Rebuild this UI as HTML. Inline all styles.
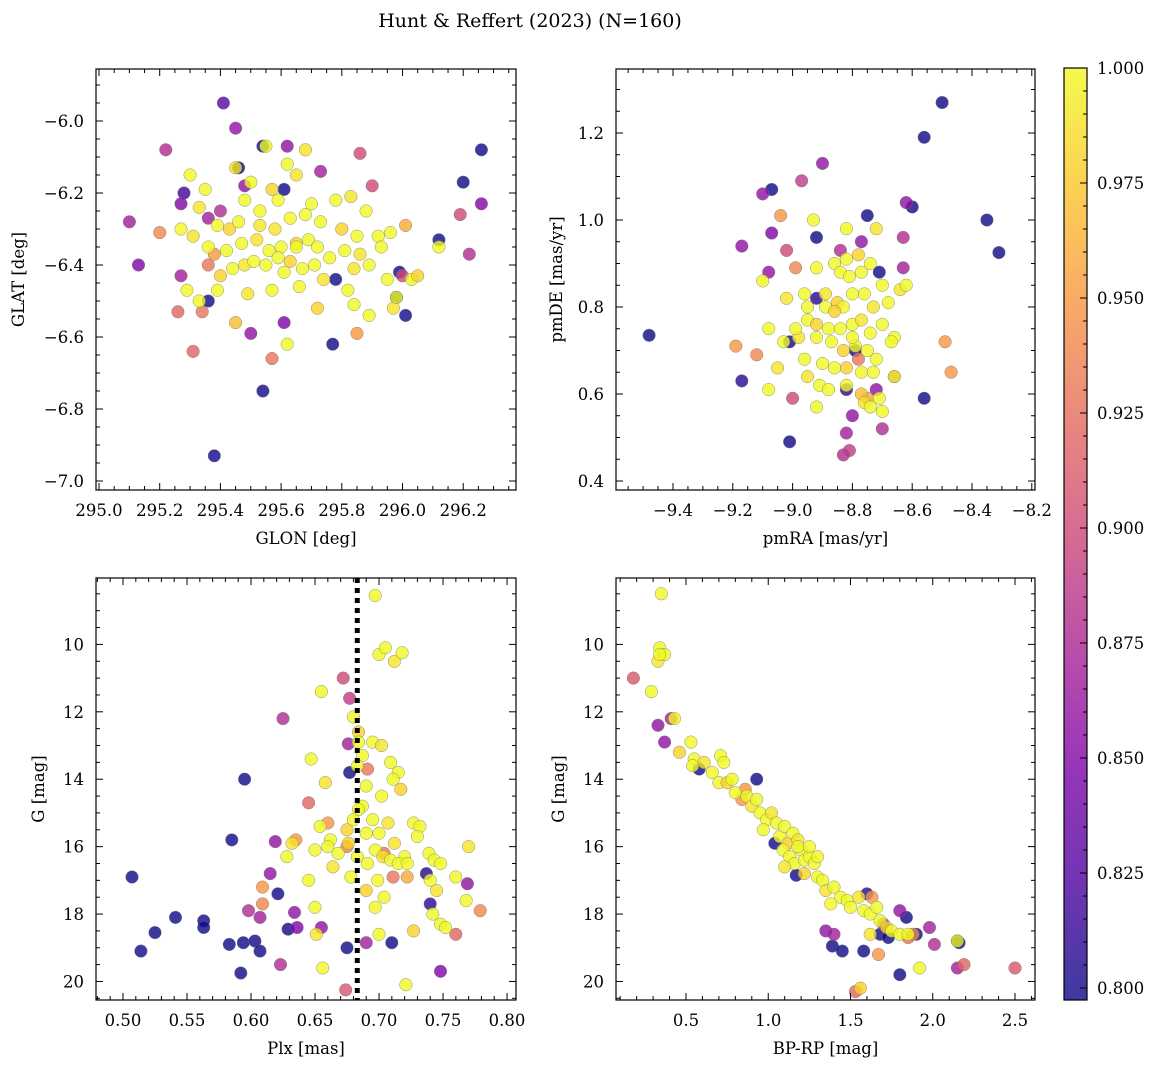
<!DOCTYPE html>
<html><head><meta charset="utf-8">
<style>
html,body{margin:0;padding:0;background:#fff;}
svg{display:block;font-family:"DejaVu Serif","Liberation Serif",serif;}
</style></head>
<body>
<svg id="fig" width="1161" height="1068" viewBox="0 0 1161 1068" xmlns="http://www.w3.org/2000/svg">
<defs>
<linearGradient id="cbg" x1="0" y1="1" x2="0" y2="0">
<stop offset="0" stop-color="#0d0887"/><stop offset="0.125" stop-color="#4c02a1"/>
<stop offset="0.25" stop-color="#7e03a8"/><stop offset="0.375" stop-color="#a82296"/>
<stop offset="0.5" stop-color="#cc4778"/><stop offset="0.625" stop-color="#e56b5d"/>
<stop offset="0.75" stop-color="#f89540"/><stop offset="0.875" stop-color="#fdc527"/>
<stop offset="1" stop-color="#f0f921"/>
</linearGradient>
</defs>
<text x="530" y="27" text-anchor="middle" font-size="19">Hunt &amp; Reffert (2023) (N=160)</text>
</svg>
<script>
// Panel 1: GLON / GLAT
const p1Lon=[295.41,295.38,295.36,295.46,295.28,295.54,295.54,295.61,295.77,295.99,295.98,296.01,296.12,296.20,296.26,295.78,
295.45,295.10,295.13,295.22,295.27,295.27,295.36,295.40,295.48,295.50,295.61,295.62,295.73,295.90,295.86,296.00,296.22,296.26,296.19,
295.20,295.26,295.31,295.34,295.36,295.38,295.57,295.85,296.01,
295.55,295.68,295.30,295.45,295.50,295.62,295.57,295.35,295.33,295.48,295.59,295.65,295.70,295.78,295.83,295.88,295.39,295.43,295.46,295.53,295.58,295.63,295.68,295.73,295.80,295.92,295.96,295.27,295.31,295.36,295.42,295.47,295.52,295.56,295.60,295.65,295.69,295.72,295.81,295.86,295.93,296.12,295.44,295.48,295.51,295.55,295.59,295.63,295.67,295.71,295.76,295.84,295.89,296.03,296.05,295.57,295.66,295.74,295.82,295.29,295.39,295.49,295.33,295.45,295.62,295.72,295.84,295.89,295.97,295.98,295.65,295.61,295.53,295.85,295.95,295.40];
const p1Lat=[-5.95,-6.93,-6.50,-6.13,-6.20,-6.75,-6.07,-6.19,-6.62,-6.42,-6.49,-6.54,-6.33,-6.17,-6.08,-6.44,
-6.02,-6.28,-6.40,-6.08,-6.23,-6.43,-6.27,-6.25,-6.18,-6.59,-6.56,-6.07,-6.14,-6.18,-6.09,-6.43,-6.37,-6.23,-6.26,
-6.31,-6.53,-6.64,-6.53,-6.40,-6.37,-6.66,-6.59,-6.29,
-6.07,-6.08,-6.15,-6.13,-6.17,-6.12,-6.19,-6.19,-6.24,-6.22,-6.22,-6.15,-6.23,-6.22,-6.21,-6.25,-6.29,-6.30,-6.28,-6.25,-6.30,-6.27,-6.26,-6.28,-6.30,-6.32,-6.31,-6.30,-6.32,-6.35,-6.36,-6.34,-6.33,-6.36,-6.35,-6.34,-6.33,-6.35,-6.36,-6.37,-6.35,-6.35,-6.41,-6.40,-6.39,-6.40,-6.38,-6.39,-6.41,-6.40,-6.38,-6.41,-6.40,-6.44,-6.43,-6.47,-6.46,-6.44,-6.47,-6.47,-6.47,-6.48,-6.50,-6.56,-6.62,-6.52,-6.51,-6.54,-6.52,-6.49,-6.35,-6.42,-6.29,-6.32,-6.44,-6.43];
const p1Prob=[0.83,0.80,0.80,0.80,0.82,0.80,0.80,0.80,0.80,0.80,0.80,0.80,0.80,0.80,0.80,0.80,
0.86,0.87,0.85,0.88,0.85,0.87,0.87,0.88,0.86,0.86,0.85,0.86,0.87,0.90,0.90,0.90,0.88,0.85,0.90,
0.94,0.92,0.92,0.93,0.93,0.95,0.93,0.95,0.96,
1,0.99,1,0.99,1,1,0.98,1,0.99,1,1,0.99,1,1,0.99,1,1,0.98,1,1,0.99,1,1,1,0.98,1,1,1,0.99,1,1,1,0.99,1,1,0.98,1,1,1,0.99,1,1,1,0.99,1,1,1,0.98,1,1,1,0.99,1,1,0.98,1,1,0.99,1,1,1,0.99,1,0.97,1,0.98,1,1,0.99,1,1,1,0.99,1,1,0.98];

// Panel 2: pmRA / pmDE
const p2Ra=[-9.48,-8.50,-8.56,-8.35,-8.31,-8.60,-8.56,-8.71,-8.75,-9.07,-9.17,-9.01,-9.01,-8.92,-8.92,-8.79,-8.82,
-8.97,-8.90,-9.10,-9.17,-9.07,-9.08,-9.02,-8.84,-8.77,-8.62,-8.63,-8.63,-8.83,-8.81,-8.82,-8.80,-8.70,-8.72,-8.66,-9.00,
-9.04,-8.99,-9.19,-9.12,-8.49,-8.47,-8.78,-8.75,
-8.93,-8.82,-8.72,-8.82,-8.86,-8.78,-8.74,-8.92,-8.96,-8.89,-8.84,-8.81,-8.77,-8.70,-8.64,-8.95,-8.89,-8.85,-8.83,-8.80,-8.76,-8.73,-8.68,-9.08,-9.03,-8.95,-8.92,-8.88,-8.84,-8.80,-8.77,-8.74,-8.70,-8.66,-9.10,-8.98,-8.92,-8.87,-8.83,-8.79,-8.75,-8.72,-8.67,-9.05,-8.96,-8.90,-8.86,-8.82,-8.77,-8.73,-9.08,-8.95,-8.91,-8.88,-8.82,-8.77,-8.71,-8.66,-8.92,-8.76,-8.74,-8.70,-8.62,-9.02,-8.99,-8.80,-8.86];
const p2De=[0.735,1.27,1.19,1.00,0.925,1.03,0.59,0.88,1.01,1.07,0.63,0.49,0.72,0.82,0.96,0.70,0.61,
1.09,1.13,1.06,0.94,0.97,0.88,0.93,0.93,0.95,1.04,0.96,0.89,0.46,0.47,0.51,0.55,0.52,0.61,0.64,0.59,
1.01,0.89,0.71,0.69,0.72,0.65,0.68,0.59,
1.00,0.98,0.98,0.91,0.90,0.92,0.90,0.89,0.83,0.83,0.88,0.87,0.88,0.85,0.84,0.80,0.80,0.81,0.80,0.83,0.83,0.80,0.81,0.75,0.72,0.77,0.76,0.75,0.75,0.76,0.77,0.74,0.76,0.73,0.86,0.73,0.73,0.72,0.70,0.71,0.70,0.68,0.72,0.66,0.68,0.67,0.66,0.66,0.65,0.65,0.61,0.64,0.62,0.61,0.62,0.60,0.59,0.64,0.57,0.58,0.57,0.56,0.85,0.82,0.75,0.73,0.79];
const p2Prob=[0.80,0.80,0.80,0.80,0.80,0.80,0.80,0.80,0.80,0.80,0.81,0.80,0.80,0.81,0.80,0.80,0.81,
0.89,0.86,0.86,0.86,0.85,0.86,0.90,0.88,0.86,0.86,0.88,0.87,0.88,0.89,0.87,0.86,0.88,0.86,0.88,0.90,
0.95,0.94,0.95,0.94,0.95,0.95,0.93,0.96,
1,1,0.99,1,1,0.98,1,1,1,0.99,1,1,1,1,0.99,1,1,0.98,1,1,1,0.99,1,1,1,1,0.98,1,1,1,0.99,1,1,1,1,0.99,1,1,0.98,1,1,1,1,0.99,1,1,1,0.98,1,1,1,0.99,1,1,1,0.97,1,1,1,0.99,1,1,1,0.99,1,1,0.98];

// Panel 3: Plx / G
const p3Plx=[0.507,0.514,0.525,0.541,0.563,0.563,0.585,0.583,0.595,0.592,0.594,0.603,0.607,0.629,0.621,0.677,0.675,0.710,0.740,0.737,
0.619,0.615,0.598,0.607,0.634,0.636,0.655,0.672,0.676,0.625,0.623,0.769,0.748,0.690,0.677,
0.674,0.675,0.609,0.609,0.660,0.704,0.711,0.760,0.779,0.691,0.645,0.635,0.722,
0.697,0.700,0.705,0.712,0.718,0.655,0.680,0.684,0.687,0.695,0.702,0.709,0.715,0.647,0.683,0.658,0.690,0.702,0.711,0.717,0.687,0.695,0.700,0.707,0.727,0.732,0.654,0.662,0.675,0.680,0.684,0.690,0.712,0.720,0.730,0.739,0.743,0.748,0.770,0.650,0.660,0.668,0.676,0.683,0.691,0.697,0.703,0.709,0.715,0.722,0.628,0.632,0.645,0.678,0.690,0.699,0.704,0.740,0.745,0.760,0.768,0.650,0.697,0.727,0.742,0.748,0.752,0.651,0.656,0.700,0.721,0.684,0.664];
const p3G=[16.9,19.1,18.55,18.1,18.2,18.4,15.8,18.9,14.0,19.75,18.85,18.8,19.1,18.45,17.4,13.8,19.0,18.85,17.7,16.8,
15.85,16.8,17.9,18.1,17.95,18.4,18.4,11.0,12.95,12.2,19.5,17.1,19.7,18.85,11.6,
20.25,16.0,17.2,17.7,15.3,16.2,16.9,18.6,17.9,13.7,14.7,15.8,16.9,
8.55,10.3,10.1,10.5,10.25,11.4,12.15,12.6,13.3,12.9,13.0,13.5,13.8,13.4,13.6,14.1,14.2,14.5,14.0,14.3,14.8,15.2,15.6,15.3,15.3,15.4,15.4,15.8,15.5,15.2,14.9,15.6,15.9,16.3,15.7,16.2,16.4,16.5,16.0,16.1,16.0,16.2,15.9,16.3,16.5,16.1,16.3,16.4,16.5,16.5,16.3,15.9,17.0,16.9,17.3,17.0,17.5,17.0,17.3,16.9,17.6,17.8,17.8,18.5,18.0,18.3,18.4,18.6,19.6,18.6,20.1,12.9,16.6];
const p3Prob=[0.80,0.80,0.80,0.80,0.80,0.80,0.80,0.80,0.80,0.80,0.80,0.80,0.80,0.80,0.80,0.80,0.80,0.80,0.81,0.81,
0.86,0.86,0.88,0.87,0.86,0.85,0.86,0.90,0.87,0.88,0.88,0.86,0.85,0.87,0.89,
0.91,0.94,0.95,0.94,0.95,0.93,0.93,0.92,0.94,0.93,0.92,0.95,0.96,
1,1,1,0.99,1,1,1,0.98,1,1,0.99,1,1,1,1,0.99,1,1,1,0.98,1,1,1,0.99,1,1,1,1,0.98,1,1,1,0.99,1,1,1,1,1,0.99,1,1,1,0.98,1,1,1,0.99,1,1,1,1,0.99,1,1,0.98,1,1,1,0.99,1,1,1,1,0.98,1,1,1,0.99,1,1,1,1,0.99];

// Panel 4: BP-RP / G
const p4Col=[0.58,0.93,1.04,1.17,1.39,1.45,1.58,1.80,1.84,1.68,1.73,1.90,2.15,2.16,1.60,
0.33,0.37,0.41,1.35,1.98,2.15,1.80,2.01,1.70,1.40,
0.18,1.53,2.50,2.19,1.63,1.67,1.85,0.86,0.84,1.88,
0.35,0.34,0.33,0.37,0.34,0.29,0.43,0.46,0.53,0.55,0.54,0.61,0.66,0.71,0.73,0.70,0.75,0.78,0.80,0.87,0.90,0.93,0.95,0.99,0.97,1.02,1.05,1.07,1.10,1.12,1.15,1.09,1.13,1.18,1.20,1.16,1.22,1.25,1.22,1.28,1.30,1.33,1.35,1.40,1.44,1.48,1.50,1.55,1.58,1.62,1.68,1.72,1.75,1.80,1.85,1.62,1.92,1.66,1.56,2.15,1.18,1.25,1.10,1.38,1.30];
const p4G=[13.7,14.0,15.9,16.85,18.95,19.1,19.1,19.8,18.1,18.6,18.7,18.6,18.8,18.85,17.4,
12.4,12.9,12.2,18.5,18.4,19.6,17.9,18.9,18.3,18.6,
11.0,20.3,19.6,19.5,17.5,19.2,18.7,14.3,14.6,18.6,
8.5,10.1,10.5,10.3,10.3,11.4,12.2,13.2,12.9,13.4,13.6,13.5,13.8,13.3,13.5,14.1,14.1,14.0,14.4,14.5,14.8,14.6,15.0,15.2,15.5,15.0,15.3,15.7,15.4,15.9,15.6,16.1,16.3,15.8,16.1,16.5,16.4,16.3,16.8,16.5,16.9,17.0,17.3,17.2,17.5,17.6,17.8,17.5,17.9,18.0,18.2,18.4,18.5,18.6,18.6,18.6,19.6,17.8,20.2,18.8,16.0,16.0,16.6,17.7,16.3];
const p4Prob=[0.80,0.80,0.80,0.80,0.80,0.80,0.80,0.80,0.80,0.80,0.80,0.80,0.80,0.80,0.81,
0.86,0.86,0.87,0.86,0.87,0.87,0.86,0.88,0.88,0.87,
0.91,0.92,0.91,0.92,0.95,0.95,0.93,0.95,0.95,0.94,
1,1,0.99,1,1,1,1,0.98,1,1,1,0.99,1,1,1,1,0.98,1,1,1,0.99,1,1,1,1,0.99,1,1,1,0.98,1,1,1,0.99,1,1,1,1,0.98,1,1,1,0.99,1,1,1,1,0.99,1,1,1,0.98,1,1,1,0.99,1,1,0.98,1,1,1,0.99,1];

const cbTicks=[0.800,0.825,0.850,0.875,0.900,0.925,0.950,0.975,1.000];
const plxLine=0.683;

const NS='http://www.w3.org/2000/svg';
const svg=document.getElementById('fig');
function mk(tag,attrs,parent){const e=document.createElementNS(NS,tag);for(const k in attrs)e.setAttribute(k,attrs[k]);(parent||svg).appendChild(e);return e;}

const stops=[[13,8,135],[76,2,161],[126,3,168],[168,34,150],[204,71,120],[229,107,93],[248,149,64],[253,197,39],[240,249,33]];
function plasma(p){if(typeof p!=='number'||isNaN(p))p=1;let t=(p-0.8)/0.2;t=Math.max(0,Math.min(1,t));const f=t*8;const i=Math.min(7,Math.floor(f));const r=f-i;const a=stops[i],b=stops[i+1];
return 'rgb('+[0,1,2].map(k=>Math.round(a[k]+(b[k]-a[k])*r)).join(',')+')';}

function fmt(v,d){const s=Math.abs(v).toFixed(d);return (v<0&&parseFloat(s)!==0?'\u2212':'')+s;}

function panel(cfg){
  const g=mk('g',{});
  
  
  const {L,R,T,B,x0,x1,y0,y1}=cfg;
  const sx=v=>L+(v-x0)/(x1-x0)*(R-L);
  const sy=v=>T+(v-y0)/(y1-y0)*(B-T);
  const pts=mk('g',{},g);
  
  
  const n=Math.min(cfg.xs.length,cfg.ys.length);
  for(let i=0;i<n;i++){
    const c=mk('circle',{cx:sx(cfg.xs[i]).toFixed(1),cy:sy(cfg.ys[i]).toFixed(1),r:6.3,fill:plasma(cfg.ps[i]),'fill-opacity':0.8,stroke:'#777','stroke-width':0.5,'stroke-opacity':0.8},pts);
    
    
  }
  if(cfg.vline!==undefined){
    const l=mk('line',{x1:sx(cfg.vline),x2:sx(cfg.vline),y1:T,y2:B,stroke:'#000','stroke-width':5,'stroke-dasharray':'5,5'},g);
    
    
  }
  const ax=mk('g',{stroke:'#000','stroke-width':1},g);
  
  
  mk('rect',{x:L,y:T,width:R-L,height:B-T,fill:'none','stroke-width':1.2},ax);
  const xmin=Math.min(x0,x1),xmax=Math.max(x0,x1);
  const xm=cfg.xstep/cfg.xminor;
  for(let k=Math.ceil(xmin/xm-1e-6);k*xm<=xmax+1e-9;k++){
    const v=k*xm;
    const X=sx(v);const isMaj=(((k%cfg.xminor)+cfg.xminor)%cfg.xminor)===0;const len=isMaj?7:4;
    mk('line',{x1:X,x2:X,y1:B,y2:B-len},ax);mk('line',{x1:X,x2:X,y1:T,y2:T+len},ax);
    if(isMaj&&(!cfg.xlab||(v>=cfg.xlab[0]-1e-9&&v<=cfg.xlab[1]+1e-9))){
      const t=mk('text',{x:X,y:B+26,'text-anchor':'middle','font-size':16.5,stroke:'none',fill:'#000'},g);t.textContent=fmt(v,cfg.xd);
      
      
    }
  }
  const ymin=Math.min(y0,y1),ymax=Math.max(y0,y1);
  const ym=cfg.ystep/cfg.yminor;
  for(let k=Math.ceil(ymin/ym-1e-6);k*ym<=ymax+1e-9;k++){
    const v=k*ym;
    const Y=sy(v);const isMaj=(((k%cfg.yminor)+cfg.yminor)%cfg.yminor)===0;const len=isMaj?7:4;
    mk('line',{x1:L,x2:L+len,y1:Y,y2:Y},ax);mk('line',{x1:R,x2:R-len,y1:Y,y2:Y},ax);
    if(isMaj){
      const t=mk('text',{x:L-12,y:Y+6,'text-anchor':'end','font-size':16.5,stroke:'none',fill:'#000'},g);t.textContent=fmt(v,cfg.yd);
      
      
    }
  }
  const xl=mk('text',{x:(L+R)/2,y:B+54,'text-anchor':'middle','font-size':16.5},g);xl.textContent=cfg.xlabel;
  
  
  const yx=cfg.ylx, yy=(T+B)/2;
  const yl=mk('text',{x:yx,y:yy,'text-anchor':'middle','font-size':16.5,transform:'rotate(-90 '+yx+' '+yy+')'},g);yl.textContent=cfg.ylabel;
  
  
}

panel({name:'glon-glat-panel',L:96,R:516,T:69,B:490,x0:294.9901,x1:296.3739,y0:-5.8556,y1:-7.025,xstep:0.2,xminor:4,ystep:0.2,yminor:4,xd:1,yd:1,xlab:[295.0,296.2],
  xs:p1Lon,ys:p1Lat,ps:p1Prob,xlabel:'GLON [deg]',ylabel:'GLAT [deg]',ylx:24});
panel({name:'proper-motion-panel',L:616,R:1035,T:69,B:490,x0:-9.5906,x1:-8.1893,y0:1.3471,y1:0.3793,xstep:0.2,xminor:4,ystep:0.2,yminor:4,xd:1,yd:1,
  xs:p2Ra,ys:p2De,ps:p2Prob,xlabel:'pmRA [mas/yr]',ylabel:'pmDE [mas/yr]',ylx:562});
panel({name:'parallax-mag-panel',L:96,R:516,T:578,B:1000,x0:0.4789,x1:0.8070,y0:8.03,y1:20.55,xstep:0.05,xminor:5,ystep:2,yminor:4,xd:2,yd:0,
  xs:p3Plx,ys:p3G,ps:p3Prob,vline:plxLine,xlabel:'Plx [mas]',ylabel:'G [mag]',ylx:44});
panel({name:'cmd-panel',L:616,R:1035,T:578,B:1000,x0:0.0745,x1:2.6216,y0:8.03,y1:20.55,xstep:0.5,xminor:5,ystep:2,yminor:4,xd:1,yd:0,
  xs:p4Col,ys:p4G,ps:p4Prob,xlabel:'BP-RP [mag]',ylabel:'G [mag]',ylx:564});

(function(){
  const g=mk('g',{});
  
  
  const L=1064,R=1087,T=68,B=1000;
  mk('rect',{x:L,y:T,width:R-L,height:B-T,fill:'url(#cbg)','fill-opacity':0.8},g);
  mk('rect',{x:L,y:T,width:R-L,height:B-T,fill:'none',stroke:'#000','stroke-width':1.2},g);
  const sy=v=>988-(v-0.8)/0.2*920;
  for(let k=0;k<=40;k++){const v=0.8+k*0.005;const Y=sy(v);if(Y<T)continue;const maj=k%5===0;
    mk('line',{x1:R,x2:R-(maj?7:4),y1:Y,y2:Y,stroke:'#000','stroke-width':1},g);}
  cbTicks.forEach(v=>{const t=mk('text',{x:R+10,y:sy(v)+6,'font-size':16.5},g);t.textContent=v.toFixed(3);
    
    });
})();
</script>
</body></html>
